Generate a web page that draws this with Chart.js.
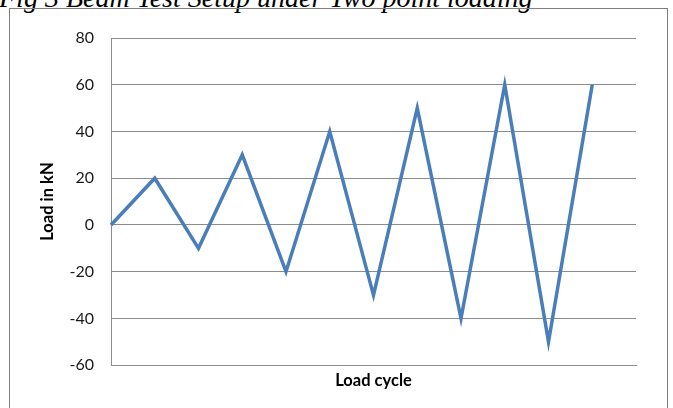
<!DOCTYPE html>
<html>
<head>
<meta charset="utf-8">
<script src="https://cdn.jsdelivr.net/npm/chart.js@4/dist/chart.umd.min.js"></script>
<style>
  html, body { margin: 0; padding: 0; background: #fff; overflow: hidden; }
  #wrap { position: relative; width: 673px; height: 408px; }
  #caption {
    position: absolute; left: -1px; top: -16px; white-space: nowrap;
    font: italic 28px "Liberation Serif", "DejaVu Serif", serif; line-height: 28px; color: #000;
  }
  #frame {
    position: absolute; left: 9px; top: 8px; width: 659px; height: 420px;
    border: 1px solid #7f7f7f; box-sizing: border-box;
  }
  #chart { position: absolute; left: 0; top: 0; }
</style>
</head>
<body>
<div id="wrap">
  <div id="caption">Fig 3 Beam Test Setup under Two point loading</div>
  <div id="frame"></div>
  <canvas id="chart" width="673" height="408"></canvas>
</div>
<script>
// Load history (kN per load step)
const cycles = ['1', '2', '3', '4', '5', '6', '7', '8', '9', '10', '11', '12', '13'];
const loads = [0, 20, -10, 30, -20, 40, -30, 50, -40, 60, -50, 60];
const yTicks = [-60, -40, -20, 0, 20, 40, 60, 80];

const gridColor = '#8c8c8c';
const lineColor = '#4a7ebb';
const font = 'Lato, "Open Sans", "Liberation Sans", sans-serif';

const ctx = document.getElementById('chart').getContext('2d');

new Chart(ctx, {
    type: 'line',
    data: {
        labels: cycles,
        datasets: [{
            label: 'Load',
            data: loads,
            borderColor: lineColor,
            borderWidth: 3.5,
            pointRadius: 0,
            tension: 0,
            fill: false
        }]
    },
    options: {
        responsive: false,
        animation: false,
        layout: { padding: { left: 38, top: 38, right: 37, bottom: 12 } },
        plugins: {
            legend: { display: false },
            tooltip: { enabled: false }
        },
        scales: {
            x: {
                offset: false,
                grid: { display: false, drawTicks: false },
                border: { display: true, color: gridColor, width: 1 },
                ticks: { display: false },
                title: {
                    display: true,
                    text: 'Load cycle',
                    color: '#000',
                    font: { family: font, size: 16.5, weight: 'bold' },
                    padding: { top: 6, bottom: 5 }
                }
            },
            y: {
                min: -60,
                max: 80,
                afterBuildTicks: scale => { scale.ticks = yTicks.map(v => ({ value: v })); },
                afterFit: scale => { scale.width = 73; },
                grid: { color: gridColor, lineWidth: 1, drawTicks: false },
                border: { display: true, color: gridColor, width: 1 },
                ticks: {
                    color: '#1a1a1a',
                    padding: 17,
                    font: { family: font, size: 16 }
                },
                title: {
                    display: true,
                    text: 'Load in kN',
                    color: '#000',
                    font: { family: font, size: 16.5, weight: 'bold' },
                    padding: { top: 0, bottom: 0 }
                }
            }
        }
    }
});
</script>
</body>
</html>
